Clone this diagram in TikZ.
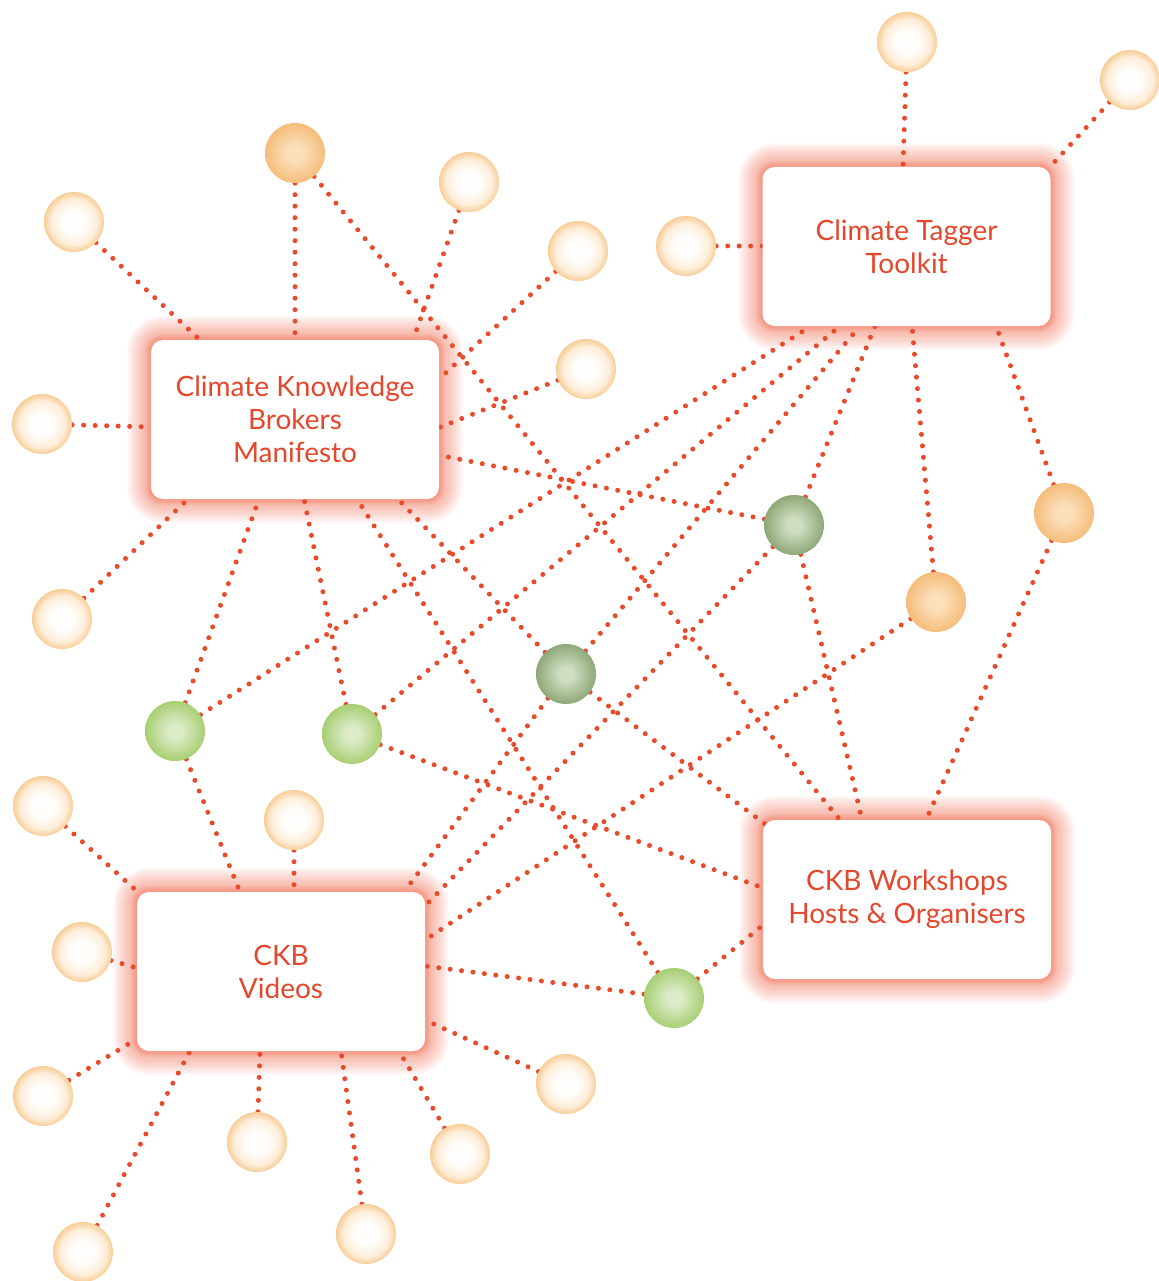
\documentclass[tikz,border=0pt]{standalone}
\usepackage{fontspec}
\setmainfont{Lato}
\usetikzlibrary{calc}
\definecolor{linecol}{HTML}{E84A2A}
\definecolor{txtcol}{HTML}{E4472B}
\definecolor{glowcol}{HTML}{EE5A3C}
\definecolor{paleA}{HTML}{FFFEFC}
\definecolor{paleB}{HTML}{FDEEDA}
\definecolor{paleC}{HTML}{F8CD96}
\definecolor{orA}{HTML}{FBE0BC}
\definecolor{orB}{HTML}{F5BD7A}
\definecolor{dgA}{HTML}{CFDDC0}
\definecolor{dgB}{HTML}{8EA879}
\definecolor{lgA}{HTML}{DDEBC8}
\definecolor{lgB}{HTML}{A7CF72}
\pgfdeclareradialshading{paleS}{\pgfpoint{0bp}{0bp}}{color(0bp)=(paleA); color(9bp)=(paleA); color(19bp)=(paleB); color(25bp)=(paleC); color(50bp)=(paleC)}
\pgfdeclareradialshading{orS}{\pgfpoint{0bp}{0bp}}{color(0bp)=(orA); color(6bp)=(orA); color(25bp)=(orB); color(50bp)=(orB)}
\pgfdeclareradialshading{dgS}{\pgfpoint{0bp}{0bp}}{color(0bp)=(dgA); color(6bp)=(dgA); color(25bp)=(dgB); color(50bp)=(dgB)}
\pgfdeclareradialshading{lgS}{\pgfpoint{0bp}{0bp}}{color(0bp)=(lgA); color(6bp)=(lgA); color(25bp)=(lgB); color(50bp)=(lgB)}
\pgfdeclarelayer{glow}
\pgfdeclarelayer{lines}
\pgfsetlayers{glow,lines,main}
\newcommand\boxglow[1]{%
  \foreach \i in {1,...,24}{%
    \pgfmathsetmacro\rr{12+\i}%
    \fill[glowcol, fill opacity=0.026, rounded corners=\rr pt]
      ([shift={(-\i pt,\i pt)}]#1.north west) rectangle ([shift={(\i pt,-\i pt)}]#1.south east);
  }%
  \foreach \i in {1,...,6}{%
    \pgfmathsetmacro\rr{12+\i}%
    \fill[glowcol, fill opacity=0.05, rounded corners=\rr pt]
      ([shift={(-\i pt,\i pt)}]#1.north west) rectangle ([shift={(\i pt,-\i pt)}]#1.south east);
  }%
}
\begin{document}
\begin{tikzpicture}[x=1pt,y=-1pt,
  cbox/.style={rectangle, rounded corners=12pt, fill=white, minimum width=288pt,
    minimum height=159pt, inner sep=0pt, align=center, text=txtcol,
    font=\fontsize{28}{33}\selectfont},
  ball/.style={circle, minimum size=60pt, inner sep=0pt},
  pale/.style={ball, shading=paleS},
  orng/.style={ball, shading=orS},
  dgreen/.style={ball, shading=dgS},
  lgreen/.style={ball, shading=lgS},
  dotline/.style={draw=linecol, line width=5pt, line cap=round, dash pattern=on 0pt off 11.5pt}]
\useasboundingbox (0,0) rectangle (1158,1281);

% boxes
\node[cbox] (M) at (295,419.5) {Climate Knowledge\\Brokers\\Manifesto};
\node[cbox] (T) at (906.5,246.5) {Climate Tagger\\Toolkit};
\node[cbox] (W) at (907,899.5) {CKB Workshops\\Hosts \& Organisers};
\node[cbox] (V) at (281,971.5) {CKB\\Videos};

% circles
\node[pale] (p1) at (907,42) {};
\node[pale] (p2) at (1130,80) {};
\node[pale] (p3) at (686,246) {};
\node[pale] (p4) at (74,222) {};
\node[pale] (p5) at (469,182) {};
\node[pale] (p6) at (578,251) {};
\node[pale] (p7) at (586,369) {};
\node[pale] (p8) at (42,424) {};
\node[pale] (p9) at (62,619) {};
\node[pale] (p10) at (43,806) {};
\node[pale] (p11) at (294,820) {};
\node[pale] (p12) at (82,952) {};
\node[pale] (p13) at (43,1096) {};
\node[pale] (p14) at (257,1142) {};
\node[pale] (p15) at (460,1154) {};
\node[pale] (p16) at (366,1234) {};
\node[pale] (p17) at (83,1252) {};
\node[pale] (p18) at (566,1084) {};
\node[orng] (o1) at (295,153) {};
\node[orng] (o2) at (1064,513) {};
\node[orng] (o3) at (936,602) {};
\node[dgreen] (d1) at (794,525) {};
\node[dgreen] (d2) at (566,674) {};
\node[lgreen] (g1) at (175,731) {};
\node[lgreen] (g2) at (352,734) {};
\node[lgreen] (g3) at (674,998) {};

% attachment points on boxes
\coordinate (m1) at (200,340);
\coordinate (m2) at (295,340);
\coordinate (m3) at (413,340);
\coordinate (m4) at (438,380);
\coordinate (m5) at (438,428);
\coordinate (m6) at (152,427);
\coordinate (m7) at (188,499);
\coordinate (m8) at (438,455);
\coordinate (m9) at (259,499);
\coordinate (m10) at (304,499);
\coordinate (m11) at (357,499);
\coordinate (m12) at (398,499);
\coordinate (t1) at (903,167);
\coordinate (t2) at (1048,169);
\coordinate (t3) at (763,246);
\coordinate (t4) at (811,326);
\coordinate (t5) at (840,326);
\coordinate (t6) at (860,326);
\coordinate (t7) at (875,326);
\coordinate (t8) at (912,326);
\coordinate (t9) at (996,326);
\coordinate (w1) at (840,820);
\coordinate (w2) at (862,820);
\coordinate (w3) at (926,820);
\coordinate (w4) at (765,824);
\coordinate (w5) at (763,888);
\coordinate (w6) at (763,925);
\coordinate (v1) at (140,894);
\coordinate (v2) at (294,892);
\coordinate (v3) at (240,892);
\coordinate (v4) at (137,968);
\coordinate (v5) at (135,1040);
\coordinate (v6) at (190,1051);
\coordinate (v7) at (260,1051);
\coordinate (v8) at (341,1051);
\coordinate (v9) at (399,1051);
\coordinate (v10) at (425,1020);
\coordinate (v11) at (425,966);
\coordinate (v12) at (404,892);
\coordinate (v13) at (425,906);
\coordinate (v14) at (425,940);

\begin{pgfonlayer}{glow}
  \boxglow{M}\boxglow{T}\boxglow{W}\boxglow{V}
\end{pgfonlayer}

\begin{pgfonlayer}{lines}
  % Manifesto
  \draw[dotline] (p4) -- (m1);
  \draw[dotline] (o1) -- (m2);
  \draw[dotline] (p5) -- (m3);
  \draw[dotline] (p6) -- (m4);
  \draw[dotline] (p7) -- (m5);
  \draw[dotline] (p8) -- (m6);
  \draw[dotline] (p9) -- (m7);
  \draw[dotline] (d1) -- (m8);
  \draw[dotline] (g1) -- (m9);
  \draw[dotline] (g2) -- (m10);
  \draw[dotline] (g3) -- (m11);
  \draw[dotline] (d2) -- (m12);
  % Tagger
  \draw[dotline] (p1) -- (t1);
  \draw[dotline] (p2) -- (t2);
  \draw[dotline] (p3) -- (t3);
  \draw[dotline] (g1) -- (t4);
  \draw[dotline] (g2) -- (t5);
  \draw[dotline] (d2) -- (t6);
  \draw[dotline] (d1) -- (t7);
  \draw[dotline] (o3) -- (t8);
  \draw[dotline] (o2) -- (t9);
  % Workshops
  \draw[dotline] (o1) -- (w1);
  \draw[dotline] (d1) -- (w2);
  \draw[dotline] (o2) -- (w3);
  \draw[dotline] (d2) -- (w4);
  \draw[dotline] (g2) -- (w5);
  \draw[dotline] (g3) -- (w6);
  % Videos
  \draw[dotline] (p10) -- (v1);
  \draw[dotline] (p11) -- (v2);
  \draw[dotline] (g1) -- (v3);
  \draw[dotline] (p12) -- (v4);
  \draw[dotline] (p13) -- (v5);
  \draw[dotline] (p17) -- (v6);
  \draw[dotline] (p14) -- (v7);
  \draw[dotline] (p16) -- (v8);
  \draw[dotline] (p15) -- (v9);
  \draw[dotline] (p18) -- (v10);
  \draw[dotline] (g3) -- (v11);
  \draw[dotline] (d2) -- (v12);
  \draw[dotline] (d1) -- (v13);
  \draw[dotline] (o3) -- (v14);
\end{pgfonlayer}
\end{tikzpicture}
\end{document}
